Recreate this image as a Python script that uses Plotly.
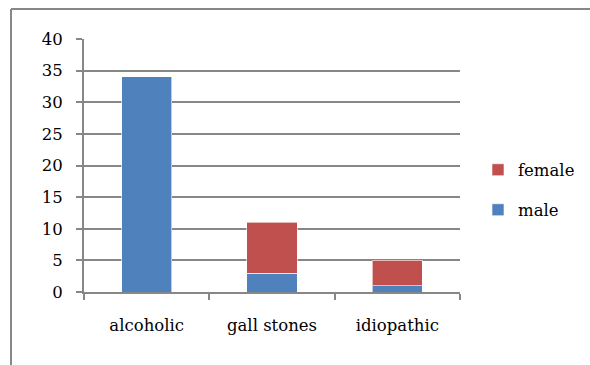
import plotly.graph_objects as go

# Cases by cause, split by sex
causes = ["alcoholic", "gall stones", "idiopathic"]
male = [34, 3, 1]
female = [0, 8, 4]
y_ticks = [0, 5, 10, 15, 20, 25, 30, 35, 40]

BLUE = "#4F81BD"
RED = "#C0504D"
GRID = "#878787"
FAMILY = "DejaVu Serif"
SIZE = 16.5


def font():
    return dict(family=FAMILY, size=SIZE, color="black")


fig = go.Figure()
fig.add_trace(go.Bar(
    x=causes, y=male, name="male", marker_color=BLUE,
    marker_line=dict(color="rgba(255,255,255,0.6)", width=1),
    legend="legend2",
))
fig.add_trace(go.Bar(
    x=causes, y=female, name="female", marker_color=RED,
    marker_line=dict(color="rgba(255,255,255,0.6)", width=1),
    legend="legend",
))

# plot area spans x 84..460 px and y 39..292 px
L, R, T, B = 84, 460, 39, 292
W, H = 590, 365
pw, ph = R - L, B - T


def px_x(x):
    return (x - L) / pw


def px_y(y):
    return (B - y) / ph


def legend_at(x, y):
    return dict(x=px_x(x), y=px_y(y), xanchor="left", yanchor="middle",
                font=font(), itemwidth=30, bgcolor="rgba(0,0,0,0)")


fig.update_layout(
    width=W, height=H,
    margin=dict(l=L, r=W - R, t=T, b=H - B, pad=0, autoexpand=False),
    barmode="stack",
    bargap=0.6,
    plot_bgcolor="white",
    paper_bgcolor="white",
    font=font(),
    showlegend=True,
    legend=legend_at(478, 170),
    legend2=legend_at(478, 210),
    xaxis=dict(
        type="category",
        tickson="boundaries",
        ticks="outside", ticklen=6, tickcolor=GRID, tickwidth=2,
        showline=True, linecolor=GRID, linewidth=2,
        showgrid=False,
        ticklabelstandoff=17,
        tickfont=font(),
    ),
    yaxis=dict(
        range=[0, 40],
        tickvals=y_ticks,
        ticks="outside", ticklen=6, tickcolor=GRID, tickwidth=2,
        showline=True, linecolor=GRID, linewidth=2,
        showgrid=True, gridcolor=GRID, gridwidth=2,
        zeroline=False,
        ticklabelstandoff=10,
        tickfont=font(),
    ),
    shapes=[
        # outer frame: top and left edges
        dict(type="line", xref="paper", yref="paper",
             x0=px_x(11), x1=px_x(595), y0=px_y(9), y1=px_y(9),
             line=dict(color=GRID, width=2)),
        dict(type="line", xref="paper", yref="paper",
             x0=px_x(11), x1=px_x(11), y0=px_y(9), y1=px_y(370),
             line=dict(color=GRID, width=2)),
    ],
)

fig.write_html("out.html")
